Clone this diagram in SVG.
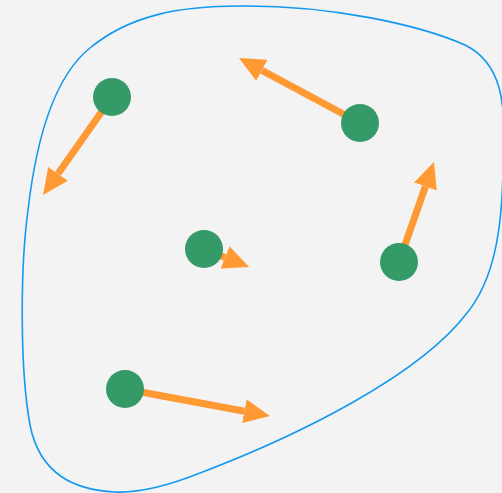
<svg xmlns="http://www.w3.org/2000/svg" width="502" height="493" viewBox="0 0 502 493">
<defs>
<style>
.blob{fill:none;stroke:#1399f0;stroke-width:1.6}
.vec{stroke:#ff9933;stroke-width:7;fill:none;marker-end:url(#head)}
.node{fill:#349a68}
</style>
<marker id="head" markerUnits="userSpaceOnUse" viewBox="0 -12 26 24" refX="0" refY="0" markerWidth="26" markerHeight="24" orient="auto">
<path d="M0,-12 L26,0 L0,12 Z" fill="#ff9933"/>
</marker>
</defs>
<rect width="502" height="493" fill="#f3f3f3"/>
<path class="blob" d="M240,6 C330,5 420,25 465,45 C500,62 508,100 503,170 C502,230 494,280 467,313 C420,375 300,435 200,473 C170,485 140,493 115,492 C75,490 40,475 30,425 C20,370 20,270 28,210 C35,150 50,80 90,48 C130,15 180,6 240,6 Z"/>
<g id="connectors">
<line class="vec" x1="112" y1="97" x2="58" y2="173.8"/>
<line class="vec" x1="360" y1="123" x2="261.9" y2="70.3"/>
<line class="vec" x1="204" y1="249" x2="225" y2="257.4"/>
<line class="vec" x1="399" y1="262" x2="425.4" y2="186.5"/>
<line class="vec" x1="125" y1="389" x2="244.4" y2="411.2"/>
</g>
<g id="n1"><circle class="node" cx="112" cy="97" r="19"/></g>
<g id="n2"><circle class="node" cx="360" cy="123" r="19"/></g>
<g id="n3"><circle class="node" cx="204" cy="249" r="19"/></g>
<g id="n4"><circle class="node" cx="399" cy="262" r="19"/></g>
<g id="n5"><circle class="node" cx="125" cy="389" r="19"/></g>
</svg>
